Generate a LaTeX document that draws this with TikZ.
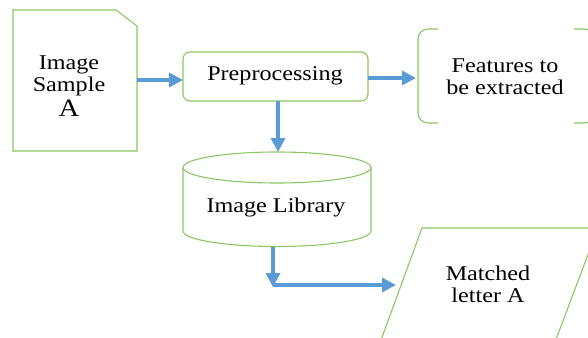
\documentclass[tikz,border=0pt]{standalone}
\usepackage{fontspec}
\setmainfont{Liberation Serif}[FakeStretch=1.15]
\usetikzlibrary{arrows.meta}
\definecolor{gline}{RGB}{140,198,98}
\definecolor{barrow}{RGB}{91,155,213}
\tikzset{
  shp/.style={draw=gline, line width=1.1pt},
  txt/.style={align=center, font=\fontsize{21}{22}\selectfont, inner sep=0pt},
  flow/.style={draw=barrow, line width=3.5pt, -{Triangle[length=14pt,width=14pt]}}
}
\begin{document}
\begin{tikzpicture}[x=1pt,y=-1pt]
\useasboundingbox (0,0) rectangle (588,337);
\begin{scope}
\clip (0,0) rectangle (588,337);
% Image sample (document with cut corner)
\draw[shp] (13,10) -- (116,10) -- (137,26) -- (137,151) -- (13,151) -- cycle;
\node[txt] (sample) at (69,86) {Image\\Sample\\[3pt]{\fontsize{25}{26}\selectfont A}};
\coordinate (sampleR) at (137,80);
% Preprocessing
\draw[shp, rounded corners=7pt] (183,52) rectangle (368,101);
\node[txt] (pre) at (275,76) {Preprocessing};
\coordinate (preL) at (183,80);
\coordinate (preR) at (368,78);
\coordinate (preB) at (278,101);
% Features (double bracket)
\draw[shp, rounded corners=10pt] (438,29) -- (418,29) -- (418,123) -- (438,123);
\draw[shp, rounded corners=10pt] (574,29) -- (594,29) -- (594,123) -- (574,123);
\node[txt] (feat) at (505,77) {Features to\\be extracted};
\coordinate (featL) at (416,78);
% Image Library cylinder
\draw[shp] (277,167.5) ellipse [x radius=94, y radius=15.5];
\draw[shp] (183,167.5) -- (183,231) arc[start angle=180, end angle=0, x radius=94, y radius=15.5] -- (371,167.5);
\node[txt] (lib) at (276,207) {Image Library};
\coordinate (libT) at (278,152);
\coordinate (libB) at (273,246.5);
\coordinate (bend) at (273,287);
\coordinate (bendS) at (273,285);
% Matched letter parallelogram
\draw[shp] (381,340) -- (422,228) -- (610,228);
\draw[shp] (598,228) -- (555,342);
\node[txt] (match) at (488,284) {Matched\\letter A};
\coordinate (matchL) at (396,285);
% connectors
\draw[flow] (sampleR) -- (preL);
\draw[flow] (preR) -- (featL);
\draw[flow] (preB) -- (libT);
\draw[flow] (libB) -- (bend);
\draw[flow] (bendS) -- (matchL);
\end{scope}
\end{tikzpicture}
\end{document}
